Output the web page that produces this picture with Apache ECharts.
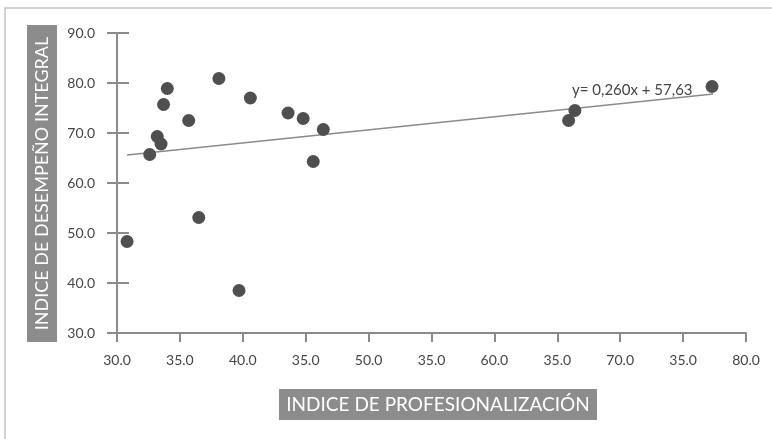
<!DOCTYPE html>
<html>
<head>
<meta charset="utf-8">
<script src="https://cdn.jsdelivr.net/npm/echarts@6/dist/echarts.min.js"></script>
<style>
  html, body { margin: 0; padding: 0; background: #fff; }
  #chart { width: 772px; height: 439px; }
</style>
</head>
<body>
<div id="chart"></div>
<script>
// tick labels as printed in the original (including its repeated "35.0")
const xTickLabels = ['30.0', '35.0', '40.0', '35.0', '50.0', '35.0', '60.0', '35.0', '70.0', '35.0', '80.0'];

// indice de profesionalización / indice de desempeño integral
const profesionalizacion = [30.8, 32.6, 33.2, 33.5, 33.7, 34.0, 35.7, 36.5, 38.1, 39.7, 40.6, 43.6, 44.8, 45.6, 46.4, 65.9, 66.4, 77.3];
const desempeno = [48.3, 65.7, 69.3, 67.8, 75.7, 78.9, 72.5, 53.1, 80.9, 38.5, 77.0, 74.0, 72.9, 64.3, 70.7, 72.5, 74.5, 79.3];

// trend line ends
const trendX = [30.8, 77.4];
const trendY = [65.6, 77.8];
const trendLabel = 'y= 0,260x + 57,63';

const chart = echarts.init(document.getElementById('chart'));
const font = 'Lato, "Open Sans", sans-serif';
const axisColor = '#8a8a8a';

chart.setOption({
  animation: false,
  grid: { left: 117, top: 33, width: 629, height: 300 },
  xAxis: {
    type: 'value',
    min: 30, max: 80, interval: 5,
    axisLine: { lineStyle: { color: axisColor, width: 2 } },
    axisTick: { show: true, length: 9, lineStyle: { color: axisColor, width: 2 } },
    splitLine: { show: false },
    axisLabel: {
      margin: 20, color: '#444', fontSize: 14, fontFamily: font,
      formatter: (v) => xTickLabels[Math.round((v - 30) / 5)]
    }
  },
  yAxis: [{
    type: 'value',
    min: 30, max: 90, interval: 10,
    axisLine: { show: true, lineStyle: { color: axisColor, width: 2 } },
    axisTick: { show: true, length: 10, lineStyle: { color: axisColor, width: 2 } },
    splitLine: { show: false },
    axisLabel: {
      margin: 22, color: '#444', fontSize: 14, fontFamily: font,
      formatter: (v) => v.toFixed(1)
    }
  }, {
    type: 'value',
    position: 'left',
    min: 30, max: 90, interval: 10,
    axisLine: { show: false },
    axisTick: { show: true, inside: true, length: 12, lineStyle: { color: axisColor, width: 2 } },
    splitLine: { show: false },
    axisLabel: { show: false }
  }],
  graphic: [
    {
      type: 'rect', silent: true, z: -1,
      shape: { x: 5, y: 8, width: 900, height: 600 },
      style: { fill: 'none', stroke: '#c4c4c4', lineWidth: 1.5 }
    },
    {
      type: 'rect', silent: true,
      shape: { x: 27, y: 25, width: 30, height: 317 },
      style: { fill: '#8c8c8c' }
    },
    {
      type: 'text', silent: true,
      x: 42, y: 183.5, rotation: Math.PI / 2,
      style: {
        text: 'INDICE DE DESEMPEÑO INTEGRAL', fill: '#fff',
        font: '18px ' + font, align: 'center', verticalAlign: 'middle'
      }
    },
    {
      type: 'rect', silent: true,
      shape: { x: 279, y: 389, width: 318, height: 31 },
      style: { fill: '#8c8c8c' }
    },
    {
      type: 'text', silent: true,
      x: 438, y: 404.5,
      style: {
        text: 'INDICE DE PROFESIONALIZACIÓN', fill: '#fff',
        font: '19px ' + font, align: 'center', verticalAlign: 'middle'
      }
    },
    {
      type: 'text', silent: true,
      x: 572, y: 90,
      style: {
        text: trendLabel, fill: '#444',
        font: '15px ' + font, align: 'left', verticalAlign: 'middle'
      }
    }
  ],
  series: [
    {
      type: 'line',
      data: trendX.map((x, i) => [x, trendY[i]]),
      symbol: 'none',
      lineStyle: { color: '#8a8a8a', width: 1.5 },
      z: 1
    },
    {
      type: 'scatter',
      data: profesionalizacion.map((x, i) => [x, desempeno[i]]),
      symbolSize: 13,
      itemStyle: { color: '#4f4f4f', opacity: 1 },
      z: 2
    }
  ]
});
</script>
</body>
</html>
